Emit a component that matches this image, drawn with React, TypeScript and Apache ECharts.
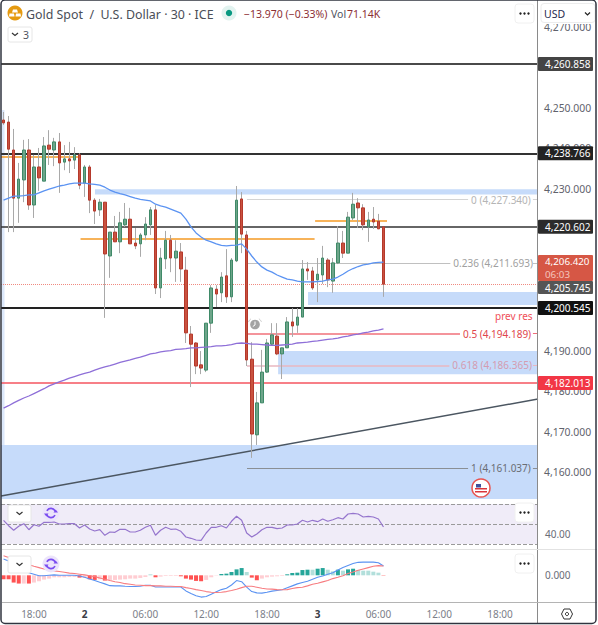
import React, { useEffect, useRef } from "react";
import * as echarts from "echarts";

const FONT = '"Noto Sans", sans-serif';

// [open, close, low, high]
const candles = [
  [4247.0, 4246.3, 4245.8, 4249.0], [4246.5, 4239.8, 4219.3, 4248.0], [4239.6, 4227.7, 4219.3, 4244.8], [4227.7, 4232.4, 4221.6, 4236.4],
  [4232.2, 4239.6, 4226.7, 4242.1], [4239.6, 4226.0, 4224.8, 4242.3], [4226.0, 4235.4, 4222.8, 4238.4], [4235.4, 4232.7, 4229.5, 4240.1],
  [4231.9, 4240.6, 4231.9, 4242.8], [4240.8, 4239.8, 4235.9, 4244.5], [4239.6, 4241.6, 4235.6, 4242.6], [4241.6, 4236.4, 4229.0, 4243.8],
  [4236.6, 4237.4, 4234.6, 4240.8], [4237.4, 4236.9, 4233.9, 4241.6], [4237.1, 4238.4, 4234.9, 4240.3], [4238.4, 4230.9, 4229.9, 4238.8],
  [4231.4, 4235.4, 4228.0, 4235.9], [4235.4, 4227.2, 4224.0, 4235.9], [4227.2, 4224.5, 4221.3, 4227.7], [4224.8, 4226.7, 4223.3, 4227.5],
  [4226.7, 4213.9, 4198.1, 4226.7], [4213.4, 4219.3, 4208.0, 4219.3], [4219.3, 4216.9, 4216.9, 4223.3], [4216.9, 4221.6, 4214.1, 4224.3],
  [4221.1, 4222.5, 4220.6, 4226.5], [4222.5, 4216.4, 4216.4, 4225.3], [4216.6, 4215.9, 4215.1, 4220.3], [4216.4, 4218.6, 4213.2, 4219.1],
  [4218.6, 4221.3, 4217.3, 4223.0], [4221.1, 4224.8, 4218.6, 4225.5], [4224.8, 4205.5, 4204.0, 4226.0], [4205.5, 4212.9, 4203.0, 4215.4],
  [4212.7, 4217.3, 4210.2, 4219.6], [4217.3, 4212.9, 4209.4, 4218.6], [4212.9, 4214.6, 4207.0, 4217.3], [4214.4, 4210.2, 4207.0, 4216.6],
  [4209.9, 4194.4, 4191.9, 4213.2], [4194.1, 4191.6, 4181.0, 4196.1], [4191.9, 4186.2, 4184.2, 4192.1], [4186.5, 4185.7, 4184.2, 4189.9],
  [4185.2, 4196.8, 4184.7, 4196.8], [4196.8, 4205.5, 4194.4, 4206.2], [4205.2, 4204.0, 4200.8, 4206.2], [4204.3, 4208.2, 4202.0, 4209.4],
  [4208.5, 4203.3, 4201.8, 4215.1], [4203.3, 4212.4, 4202.0, 4212.9], [4212.2, 4227.2, 4211.9, 4230.7], [4227.5, 4218.8, 4214.1, 4229.2],
  [4218.6, 4187.7, 4186.2, 4219.6], [4187.9, 4169.4, 4163.5, 4192.1], [4169.2, 4177.1, 4166.7, 4179.8], [4177.1, 4184.7, 4177.1, 4190.2],
  [4184.7, 4191.9, 4184.5, 4192.9], [4191.6, 4193.9, 4191.4, 4196.8], [4193.6, 4189.2, 4188.9, 4196.8], [4189.2, 4190.7, 4183.0, 4190.7],
  [4190.7, 4197.1, 4190.7, 4198.3], [4197.1, 4196.1, 4193.4, 4200.5], [4196.3, 4198.3, 4194.4, 4200.5], [4198.3, 4210.2, 4198.3, 4212.4],
  [4210.2, 4209.7, 4207.5, 4211.9], [4209.7, 4205.5, 4205.0, 4210.7], [4207.5, 4208.9, 4202.0, 4212.9], [4208.7, 4212.9, 4206.5, 4215.9],
  [4212.4, 4207.5, 4205.7, 4212.9], [4207.2, 4211.7, 4204.3, 4212.9], [4211.7, 4216.6, 4211.4, 4220.8], [4216.6, 4214.1, 4212.9, 4219.6],
  [4214.1, 4223.0, 4214.1, 4224.3], [4222.8, 4226.2, 4222.3, 4229.0], [4226.5, 4225.3, 4220.3, 4227.7], [4225.3, 4221.1, 4219.8, 4226.2],
  [4220.6, 4222.3, 4216.9, 4224.3], [4222.5, 4221.8, 4220.1, 4225.5], [4222.0, 4220.1, 4220.1, 4223.8], [4220.6, 4206.42, 4203.3, 4220.6],
];

const maFast = [
  4227.2, 4227.7, 4228.2, 4228.2, 4228.3, 4228.5, 4228.5, 4229.0, 4229.5, 4229.9, 4230.3, 4230.7, 4230.9, 4231.2, 4231.4, 4231.4,
  4231.4, 4231.2, 4231.1, 4230.9, 4230.4, 4229.7, 4229.2, 4228.8, 4228.5, 4228.1, 4227.7, 4227.4, 4227.2, 4227.0, 4226.2, 4225.8,
  4225.5, 4225.0, 4224.5, 4224.0, 4222.5, 4220.6, 4219.1, 4218.1, 4217.3, 4216.9, 4216.4, 4216.0, 4215.9, 4216.0, 4216.1, 4216.4,
  4215.1, 4213.4, 4211.9, 4210.7, 4209.9, 4209.4, 4208.7, 4208.2, 4207.7, 4207.5, 4207.2, 4207.0, 4207.0, 4207.0, 4207.1, 4207.2,
  4207.5, 4207.7, 4208.2, 4208.9, 4209.7, 4210.3, 4210.8, 4211.2, 4211.4, 4211.7, 4211.8, 4211.9,
];

const maSlow = [
  4175.8, 4176.4, 4177.1, 4177.7, 4178.3, 4178.8, 4179.4, 4180.0, 4180.6, 4181.3, 4181.8, 4182.3, 4182.7, 4183.2, 4183.6, 4184.0,
  4184.4, 4184.7, 4185.2, 4185.6, 4186.0, 4186.3, 4186.7, 4187.1, 4187.4, 4187.7, 4188.1, 4188.4, 4188.8, 4189.2, 4189.4, 4189.7,
  4189.9, 4190.0, 4190.3, 4190.4, 4190.5, 4190.7, 4190.7, 4190.8, 4190.9, 4191.0, 4191.2, 4191.2, 4191.3, 4191.5, 4191.8, 4191.9,
  4191.8, 4191.6, 4191.6, 4191.5, 4191.4, 4191.3, 4191.3, 4191.4, 4191.5, 4191.6, 4191.9, 4192.0, 4192.1, 4192.3, 4192.4, 4192.6,
  4192.8, 4192.9, 4193.1, 4193.4, 4193.6, 4193.9, 4194.1, 4194.4, 4194.6, 4194.9, 4195.1, 4195.4,
];

const rsiValues = [
  53.7, 48.3, 43.7, 47.7, 50.3, 44.3, 49.3, 47.7, 51.7, 51.7, 52, 50, 50, 50.3, 50.3, 46, 49, 45, 43, 44.3, 38.7, 42, 41.7, 44.7, 44.7,
  42, 42, 43.7, 46.7, 48.7, 38.7, 43.7, 46.7, 44.7, 45, 42.7, 37, 35.7, 34, 33.7, 41, 46.7, 46.7, 48.3, 46, 52.7, 57.7, 53.7, 41, 37,
  40, 44.3, 46.7, 46.7, 45.3, 46, 49, 49, 50, 53.7, 52, 53.7, 52.3, 55, 52.7, 54.3, 56.3, 55, 60, 60.7, 60, 57, 57.7, 57, 55, 47,
];

const macdLine = [
  7.4, 6.5, 5.4, 3.6, 2.4, 1.2, 0.5, -0.2, -0.2, 0, 0.2, 0, 0, 0, 0, -0.3, -0.9, -1.7, -2.4, -3.2, -3.9, -4.7, -4.8, -4.8, -5.0, -5.1,
  -5.1, -5.0, -4.5, -4.5, -5.3, -5.3, -5.3, -5.3, -5.3, -5.3, -7.1, -8.3, -9.3, -9.9, -9.6, -8.6, -7.5, -6.5, -5.9, -4.4, -2.4, -2.9,
  -5.4, -7.4, -8.0, -8.1, -7.7, -7.2, -6.9, -6.6, -5.7, -4.8, -3.9, -3.3, -2.7, -1.8, -0.9, -0.3, 0.5, 1.2, 2.4, 3.6, 4.5, 5.4, 5.9, 6,
  6, 6, 5.7, 4.2,
];

const signalLine = [
  8.9, 8.1, 7.2, 6.3, 5.6, 4.8, 4.1, 3.5, 2.9, 2.4, 2, 1.7, 1.4, 1, 0.8, 0.5, 0.2, -0.2, -0.6, -1.2, -1.8, -2.4, -2.9, -3.3, -3.8, -4.1,
  -4.4, -4.5, -4.7, -4.7, -4.8, -4.8, -5, -5, -5.1, -5.1, -5.6, -6, -6.5, -6.9, -7.4, -7.7, -7.8, -7.7, -7.4, -6.9, -6.3, -5.6, -5, -5,
  -5.4, -5.9, -6.2, -6.3, -6.5, -6.6, -6.5, -6, -5.6, -5.4, -4.8, -4.1, -3.6, -3, -2.4, -1.5, -0.9, -0.2, 0.8, 1.5, 2.3, 2.9, 3.5, 4.1,
  4.4, 4.2,
];

const histogram = [
  -1.8, -1.8, -3.3, -3.75, -3.75, -3.75, -3.3, -2.7, -1.95, -1.5, -0.9, -0.9, -0.9, -0.75, -0.75, -1.05, -1.2, -1.8, -2.1, -1.8, -2.4,
  -2.1, -2.1, -1.95, -1.8, -1.5, -1.5, -1.2, -0.75, 0.45, -0.9, -0.6, -0.3, -0.3, -0.3, -0.45, -1.5, -1.95, -2.55, -2.7, -2.1, -0.9,
  -0.15, 0.6, 0.75, 1.5, 2.7, 3.3, 1.5, -1.05, -2.25, -1.5, -0.9, -0.6, -0.45, -0.3, 0.45, 1.05, 1.2, 2.4, 2.55, 2.55, 3.0, 3.3, 2.55,
  1.8, 2.55, 2.1, 2.7, 3.0, 2.4, 2.1, 2.1, 1.65, 1.2, -0.15,
];

const histStrong = [
  1, 1, 1, 1, 0, 1, 0, 0, 0, 0, 0, 0, 0, 0, 0, 1, 0, 1, 1, 0, 1, 0, 0, 0, 0, 0, 0, 0, 0, 0, 1, 0, 0, 0, 0, 1, 1, 1, 1, 1, 0, 0, 0, 1, 1,
  1, 1, 1, 0, 1, 1, 0, 0, 0, 0, 0, 1, 1, 1, 1, 1, 0, 1, 1, 0, 0, 1, 0, 1, 1, 0, 0, 0, 0, 0, 1,
];

// 4,200 / 4,210 / 4,220 / 4,260 lie fully behind price tags in the reference
const priceTicks = [4160, 4170, 4180, 4190, 4230, 4240, 4250, 4270];
const timeLabels: Record<number, string> = { 6: "18:00", 16: "2", 28: "06:00", 40: "12:00", 52: "18:00", 62: "3", 74: "06:00", 86: "12:00", 98: "18:00" };
const BAR_SLOTS = 106;
const categories = Array.from({ length: BAR_SLOTS }, (_, i) => String(i));

const solidLevels = [
  { value: 4260.858, color: "#4a4a4a", width: 2, tag: "#444444" },
  { value: 4238.766, color: "#333333", width: 2, tag: "#222222" },
  { value: 4220.602, color: "#333333", width: 1.5, tag: "#2b2b2b" },
  { value: 4200.545, color: "#222222", width: 2, tag: "#111111" },
  { value: 4182.013, color: "#f4555f", width: 1.5, tag: "#f23645" },
];

const orangeSegments = [
  { from: -0.5, to: 15, value: 4237.9 },
  { from: 15.2, to: 61.4, value: 4217.6 },
  { from: 61.5, to: 75.7, value: 4222.0 },
];

const fibLevels = [
  { text: "0 (4,227.340)", value: 4227.34, end: 91.7, line: "#d4d4d4", width: 1, color: "#b5b5b5" },
  { text: "0.236 (4,211.693)", value: 4211.693, end: 88.2, line: "#c0c0c0", width: 1, color: "#a0a0a0" },
  { text: "0.5 (4,194.189)", value: 4194.189, end: 90.1, line: "#f0707a", width: 1.5, color: "#e0454d" },
  { text: "0.618 (4,186.365)", value: 4186.365, end: 88, line: "#e9b7c0", width: 1.5, color: "#d49bb0" },
  { text: "1 (4,161.037)", value: 4161.037, end: 91.7, line: "#8a8f94", width: 1, color: "#6a6d74" },
];

const zones = [
  { from: 18.05, top: 4229.9, bottom: 4228.6 },
  { from: 60.1, top: 4204.5, bottom: 4201.3 },
  { from: 54.2, top: 4189.9, bottom: 4184.2 },
  { from: undefined, top: 4166.7, bottom: 4153.34 },
];

const circArrow = (cx: number, cy: number) => [
  { type: "circle", shape: { cx, cy, r: 8.5 }, style: { fill: "#ece4fb" }, silent: true, z: 20 },
  { type: "arc", shape: { cx, cy, r: 4.6, startAngle: 0.5, endAngle: 2.8 }, style: { stroke: "#7a4df0", lineWidth: 1.6, fill: "none" }, silent: true, z: 21 },
  { type: "arc", shape: { cx, cy, r: 4.6, startAngle: 3.6, endAngle: 5.9 }, style: { stroke: "#7a4df0", lineWidth: 1.6, fill: "none" }, silent: true, z: 21 },
  { type: "polygon", shape: { points: [[cx - 7, cy + 0.5], [cx - 2.5, cy + 0.5], [cx - 4.7, cy + 3.5]] }, style: { fill: "#7a4df0" }, silent: true, z: 21 },
  { type: "polygon", shape: { points: [[cx + 7, cy - 0.5], [cx + 2.5, cy - 0.5], [cx + 4.7, cy - 3.5]] }, style: { fill: "#7a4df0" }, silent: true, z: 21 },
];

const chevronBox = (x: number, y: number, w: number, h: number, cx = x + w / 2) => [
  { type: "rect", shape: { x, y, width: w, height: h, r: 2 }, style: { fill: "#fff", stroke: "#e6e6e6", lineWidth: 1 }, silent: true, z: 20 },
  { type: "polyline", shape: { points: [[cx - 3, y + h / 2 - 1.5], [cx, y + h / 2 + 1], [cx + 3, y + h / 2 - 1.5]] }, style: { stroke: "#333", lineWidth: 1.2, fill: "none" }, silent: true, z: 21 },
];

const dotsBox = (x: number, y: number, border: string) => [
  { type: "rect", shape: { x, y, width: 19, height: 19, r: 3 }, style: { fill: "#fff", stroke: border, lineWidth: 1 }, silent: true, z: 20 },
  ...[-4, 0, 4].map((d) => ({ type: "circle", shape: { cx: x + 9.5 + d, cy: y + 9.5, r: 1.2 }, style: { fill: "#222" }, silent: true, z: 21 })),
];

const txt = (x: number, y: number, text: string, fill: string, fontSize: number, extra: any = {}) => ({
  type: "text", x, y, silent: true, z: 22,
  style: { text, fill, fontSize, fontFamily: FONT, verticalAlign: "middle", align: "left", ...extra },
});

const graphicElements: any[] = [
  // left stripe of the oldest session and the left edge of the lowest zone
  { type: "rect", shape: { x: 2, y: 110, width: 2.5, height: 335 }, style: { fill: "#dce8fb" }, silent: true, z: 0 },
  { type: "rect", shape: { x: 1, y: 445, width: 4, height: 54 }, style: { fill: "#c6dbfa" }, silent: true, z: 1 },
  // price scale rule
  { type: "line", shape: { x1: 537.5, y1: 0, x2: 537.5, y2: 624 }, style: { stroke: "#8a8a8a", lineWidth: 1 }, silent: true, z: 12 },
  // pane separators
  { type: "line", shape: { x1: 2, y1: 549.5, x2: 597, y2: 549.5 }, style: { stroke: "#e2e2e2", lineWidth: 1 }, silent: true, z: 12 },
  { type: "line", shape: { x1: 2, y1: 602.5, x2: 597, y2: 602.5 }, style: { stroke: "#b4b4b4", lineWidth: 1 }, silent: true, z: 12 },
  // window frame
  { type: "rect", shape: { x: 1, y: 0, width: 595, height: 623.5, r: 4 }, style: { fill: "none", stroke: "#30343f", lineWidth: 1.5 }, silent: true, z: 30 },

  // header
  { type: "circle", shape: { cx: 15, cy: 13, r: 7.5 }, style: { fill: "#e59a10" }, silent: true, z: 20 },
  { type: "polygon", shape: { points: [[13, 9.5], [17, 9.5], [18, 12.5], [12, 12.5]] }, style: { fill: "#fff" }, silent: true, z: 21 },
  { type: "polygon", shape: { points: [[9.5, 13.5], [14, 13.5], [14.5, 16.5], [9, 16.5]] }, style: { fill: "#fff" }, silent: true, z: 21 },
  { type: "polygon", shape: { points: [[16, 13.5], [20.5, 13.5], [21, 16.5], [15.5, 16.5]] }, style: { fill: "#fff" }, silent: true, z: 21 },
  txt(26, 14, "Gold Spot  /  U.S. Dollar · 30 · ICE", "#4a4e57", 12.4),
  { type: "circle", shape: { cx: 229, cy: 13, r: 7.5 }, style: { fill: "#e2f3f0" }, silent: true, z: 20 },
  { type: "circle", shape: { cx: 229, cy: 13, r: 3.2 }, style: { fill: "#089981" }, silent: true, z: 21 },
  txt(244, 14, "−13.970 (−0.33%)", "#8c2f35", 10.5),
  txt(331, 14, "Vol", "#50535e", 10.5),
  txt(347, 14, "71.14K", "#8c2f35", 10.5),
  ...dotsBox(515, 4, "#f0f0f0"),
  ...chevronBox(8, 27, 24, 15, 15),
  txt(23, 34.5, "3", "#50535e", 10.5),

  // currency button
  { type: "rect", shape: { x: 539, y: 0, width: 57, height: 24 }, style: { fill: "#fff" }, silent: true, z: 19 },
  { type: "rect", shape: { x: 541, y: 3.5, width: 54, height: 19, r: 3 }, style: { fill: "#fff", stroke: "#ececec", lineWidth: 1 }, silent: true, z: 20 },
  txt(544, 14, "USD", "#1f2a4d", 10.5),
  { type: "polyline", shape: { points: [[585, 12.5], [587.5, 15], [590, 12.5]] }, style: { stroke: "#222", lineWidth: 1.2, fill: "none" }, silent: true, z: 21 },

  // last price and countdown tags
  { type: "rect", shape: { x: 538, y: 255, width: 55, height: 26, r: 1 }, style: { fill: "#d65745" }, silent: true, z: 20 },
  txt(545, 261.5, "4,206.420", "#ffffff", 9.8),
  txt(545, 274, "06:03", "#f4c5bd", 9.8),
  { type: "rect", shape: { x: 538, y: 281, width: 55, height: 13, r: 1 }, style: { fill: "#555555" }, silent: true, z: 20 },
  txt(545, 287.5, "4,205.745", "#ffffff", 10),

  // note
  txt(495, 316, "prev res", "#ef4f58", 10),

  // clock alert
  { type: "circle", shape: { cx: 255, cy: 324.5, r: 4.8 }, style: { fill: "#a3a3a3" }, silent: true, z: 20 },
  { type: "polyline", shape: { points: [[255, 321.5], [255, 325], [252.8, 326.5]] }, style: { stroke: "#fff", lineWidth: 1, fill: "none" }, silent: true, z: 21 },
  { type: "arc", shape: { cx: 255, cy: 324.5, r: 7, startAngle: 3.5, endAngle: 4.1 }, style: { stroke: "#cfcfcf", lineWidth: 1, fill: "none" }, silent: true, z: 21 },
  { type: "arc", shape: { cx: 255, cy: 324.5, r: 7, startAngle: 5.3, endAngle: 5.9 }, style: { stroke: "#cfcfcf", lineWidth: 1, fill: "none" }, silent: true, z: 21 },

  // US event flag
  { type: "circle", shape: { cx: 481, cy: 488, r: 9 }, style: { fill: "#ffffff", stroke: "#e8534f", lineWidth: 1.5 }, silent: true, z: 20 },
  { type: "circle", shape: { cx: 481, cy: 488, r: 6.5 }, style: { fill: "#ffffff" }, silent: true, z: 21 },
  { type: "rect", shape: { x: 475, y: 488, width: 12, height: 1.5 }, style: { fill: "#d8353b" }, silent: true, z: 22 },
  { type: "rect", shape: { x: 475, y: 491, width: 12, height: 1.5 }, style: { fill: "#d8353b" }, silent: true, z: 22 },
  { type: "rect", shape: { x: 476, y: 484, width: 5, height: 3.5 }, style: { fill: "#3e4f9c" }, silent: true, z: 22 },

  // indicator pane controls
  ...chevronBox(8, 505, 23, 17),
  ...circArrow(51, 513),
  ...dotsBox(515, 503, "#f0f0f0"),
  ...chevronBox(8, 556, 23, 17),
  ...circArrow(51, 564),
  ...dotsBox(515, 554, "#f0f0f0"),

  // RSI scale: the upper label sits half under the main pane
  { type: "rect", shape: { x: 539, y: 484, width: 57, height: 15 }, style: { fill: "#ffffff" }, silent: true, z: 23 },
  { type: "text", x: 545, y: 495, silent: true, z: 22, style: { text: "80.00", fill: "#6a6d78", fontSize: 10, fontFamily: FONT, verticalAlign: "middle" } },

  // scale settings
  { type: "polygon", shape: { points: [[561.5, 614], [564, 609], [570, 609], [572.5, 614], [570, 619], [564, 619]] }, style: { fill: "none", stroke: "#333", lineWidth: 1 }, silent: true, z: 21 },
  { type: "circle", shape: { cx: 567, cy: 614, r: 1.6 }, style: { fill: "none", stroke: "#333", lineWidth: 1 }, silent: true, z: 21 },
];

const App = () => {
  const ref = useRef<HTMLDivElement>(null);
  useEffect(() => {
    document.body.style.margin = "0";
    const chart = echarts.init(ref.current!, undefined, { renderer: "svg" });
    const hLine = (value: number, color: string, width: number, type = "solid") => ({
      yAxis: value,
      lineStyle: { color, width, type },
      label: { show: false },
    });
    const seg = (from: number, to: number, value: number, color: string, width: number, label?: any) => [
      { xAxis: from, yAxis: value, lineStyle: { color, width, type: "solid" }, label: label ?? { show: false } },
      { xAxis: to, yAxis: value },
    ];
    const overlayLines: any[] = [
      ...solidLevels.map((l) => ({
        yAxis: l.value,
        lineStyle: { color: l.color, width: l.width, type: "solid" },
        label: {
          show: true, position: "end", distance: 0, formatter: l.value.toLocaleString("en-US", { minimumFractionDigits: 3 }),
          backgroundColor: l.tag, color: "#ffffff", fontSize: 10, fontFamily: FONT, padding: [2, 6, 2, 7], borderRadius: 1, width: 42,
        },
      })),
      hLine(4206.42, "#f08a80", 1, "dotted"),
      ...orangeSegments.map((s) => seg(s.from, s.to, s.value, "#f59a23", 1.5)),
      ...fibLevels.map((f) =>
        seg(48.06, f.end, f.value, f.line, f.width, {
          show: true, position: "end", distance: 3, formatter: f.text, color: f.color, fontSize: 10, fontFamily: FONT,
        }),
      ),
      ...fibLevels.map((f) => seg(104.5, 105.5, f.value, f.line, 1)),
      [
        { xAxis: -0.5, yAxis: 4154.08, lineStyle: { color: "#4b5661", width: 1.4, type: "solid" }, label: { show: false } },
        { xAxis: 105.5, yAxis: 4178.05 },
      ],
    ];

    const option: any = {
      animation: false,
      graphic: { elements: graphicElements },
      textStyle: { fontFamily: FONT },
      grid: [
        { left: 1, top: 0, width: 537, height: 499 },
        { left: 1, top: 501, width: 537, height: 47 },
        { left: 1, top: 551, width: 537, height: 50 },
      ],
      xAxis: [
        { type: "category", gridIndex: 0, data: categories, show: false },
        { type: "value", gridIndex: 0, min: -0.5, max: 105.5, show: false },
        { type: "category", gridIndex: 1, data: categories, show: false },
        {
          type: "category", gridIndex: 2, data: categories, position: "bottom",
          axisLine: { show: false }, axisTick: { show: false },
          axisLabel: {
            interval: (i: number) => timeLabels[i] !== undefined,
            formatter: (_: string, i: number) => {
              const t = timeLabels[i];
              return /:/.test(t) ? t : `{b|${t}}`;
            },
            color: "#7b7e88", fontSize: 10, margin: 8, fontFamily: FONT,
            rich: { b: { fontWeight: "bold", color: "#3a3d46", fontSize: 10, fontFamily: FONT } },
          },
        },
      ],
      yAxis: [
        {
          type: "value", gridIndex: 0, position: "right", min: 4153.34, max: 4276.67, scale: true,
          axisLine: { show: false }, axisTick: { show: false }, splitLine: { show: false },
          axisLabel: {
            customValues: priceTicks, margin: 6, color: "#5f626c", fontSize: 10.4, fontFamily: FONT,
            formatter: (v: number) => v.toLocaleString("en-US", { minimumFractionDigits: 3 }),
          },
        },
        {
          type: "value", gridIndex: 1, position: "right", min: 26, max: 73,
          axisLine: { show: false }, axisTick: { show: false }, splitLine: { show: false },
          axisLabel: { customValues: [40], margin: 7, color: "#6a6d78", fontSize: 10, fontFamily: FONT, padding: [0, 0, 4, 0], formatter: (v: number) => v.toFixed(2) },
        },
        {
          type: "value", gridIndex: 2, position: "right", min: -11.68, max: 11.05,
          axisLine: { show: false }, axisTick: { show: false }, splitLine: { show: false },
          axisLabel: { customValues: [0], margin: 7, color: "#6a6d78", fontSize: 10, fontFamily: FONT, formatter: (v: number) => v.toFixed(3) },
        },
      ],
      series: [
        {
          name: "Levels", type: "line", xAxisIndex: 1, yAxisIndex: 0, data: [], z: 1, silent: true, symbol: "none",
          markArea: {
            silent: true, z: 1,
            itemStyle: { color: "#c6dbfa" },
            data: zones.map((a) => [a.from === undefined ? { yAxis: a.top } : { xAxis: a.from, yAxis: a.top }, { yAxis: a.bottom }]),
          },
          markLine: { silent: true, symbol: "none", z: 1, animation: false, data: overlayLines },
        },
        {
          name: "Wicks", type: "candlestick", xAxisIndex: 0, yAxisIndex: 0, z: 2, silent: true, barWidth: 1,
          data: candles,
          itemStyle: { color: "#a9a9a9", color0: "#a9a9a9", borderColor: "#a9a9a9", borderColor0: "#a9a9a9", borderWidth: 1 },
        },
        {
          name: "Bodies", type: "candlestick", xAxisIndex: 0, yAxisIndex: 0, z: 3, silent: true, barWidth: 3,
          data: candles.map(([o, c]) => [o, c, Math.min(o, c), Math.max(o, c)]),
          itemStyle: { color: "#6ea58a", color0: "#c9523f", borderColor: "#3f8a68", borderColor0: "#b5392c", borderWidth: 1 },
        },
        { name: "MA fast", type: "line", xAxisIndex: 0, yAxisIndex: 0, z: 4, data: maFast, symbol: "none", silent: true, lineStyle: { color: "#5b93f2", width: 1.3 } },
        { name: "MA slow", type: "line", xAxisIndex: 0, yAxisIndex: 0, z: 4, data: maSlow, symbol: "none", silent: true, lineStyle: { color: "#8e6fd8", width: 1.3 } },
        {
          name: "RSI", type: "line", xAxisIndex: 2, yAxisIndex: 1, data: rsiValues, symbol: "none", silent: true, z: 4,
          lineStyle: { color: "#9575cd", width: 1.2 },
          markArea: { silent: true, z: 1, itemStyle: { color: "#f0ecf8" }, data: [[{ yAxis: 70 }, { yAxis: 30 }]] },
          markLine: {
            silent: true, symbol: "none", z: 2, label: { show: false },
            lineStyle: { color: "#9a9a9a", type: "dashed", width: 1 },
            data: [{ yAxis: 70 }, { yAxis: 50 }, { yAxis: 30 }],
          },
        },
        {
          name: "Histogram", type: "bar", xAxisIndex: 3, yAxisIndex: 2, barWidth: 4, silent: true, z: 2,
          data: histogram.map((v, i) => ({
            value: v,
            itemStyle: { color: v >= 0 ? (histStrong[i] ? "#26a69a" : "#b2dfdb") : histStrong[i] ? "#ff5252" : "#ffcdd2" },
          })),
        },
        { name: "MACD", type: "line", xAxisIndex: 3, yAxisIndex: 2, data: macdLine, symbol: "none", silent: true, z: 4, lineStyle: { color: "#5b93f2", width: 1.1 } },
        { name: "Signal", type: "line", xAxisIndex: 3, yAxisIndex: 2, data: signalLine, symbol: "none", silent: true, z: 4, lineStyle: { color: "#f77c80", width: 1.1 } },
      ],
    };
    chart.setOption(option);
    return () => chart.dispose();
  }, []);
  return <div ref={ref} style={{ width: 598, height: 625, overflow: "hidden" }} />;
};

export default App;
